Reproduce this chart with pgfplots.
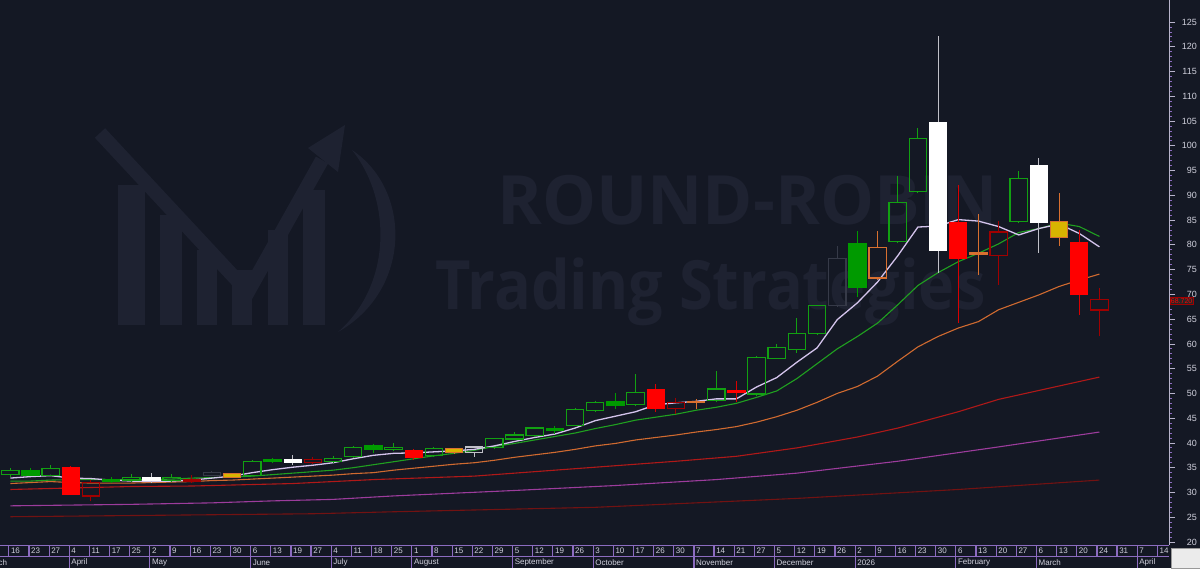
\documentclass[border=0pt]{standalone}
\usepackage{pgfplots}
\pgfplotsset{compat=1.18}
\usepackage{fontspec}
\setmainfont{Liberation Sans}
\newfontfamily\wmfont{Open Sans}
\definecolor{bg}{HTML}{141824}
\definecolor{wm}{HTML}{1E2231}
\definecolor{cg}{HTML}{12A012}
\definecolor{cgf}{HTML}{009A00}
\definecolor{cr}{HTML}{FF0000}
\definecolor{cdr}{HTML}{A00000}
\definecolor{cw}{HTML}{FFFFFF}
\definecolor{cwk}{HTML}{C0C0C8}
\definecolor{cy}{HTML}{D8B400}
\definecolor{co}{HTML}{D87030}
\definecolor{ck}{HTML}{363A48}
\definecolor{mawhite}{HTML}{D4C4EC}
\definecolor{magreen}{HTML}{20A020}
\definecolor{maorange}{HTML}{D06A30}
\definecolor{mared}{HTML}{B01818}
\definecolor{mapurple}{HTML}{9C3C9C}
\definecolor{madark}{HTML}{721212}
\definecolor{stripc}{HTML}{8C6CC0}
\definecolor{labc}{HTML}{D0D0DC}
\definecolor{axisc}{HTML}{B8B4CC}
\pgfplotsset{
 bodyG/.style={draw=cg, line width=1.2pt, fill=none},
 wickG/.style={draw=cg, line width=1pt},
 bodyGF/.style={draw=cgf, line width=1pt, fill=cgf},
 wickGF/.style={draw=cgf, line width=1pt},
 bodyR/.style={draw=cr, line width=1pt, fill=cr},
 wickR/.style={draw=cr!85!black, line width=1pt},
 bodyDR/.style={draw=cdr, line width=1.2pt, fill=none},
 wickDR/.style={draw=cdr, line width=1pt},
 bodyW/.style={draw=cw, line width=1pt, fill=cw},
 wickW/.style={draw=cwk, line width=1pt},
 bodyWO/.style={draw=cwk, line width=1.2pt, fill=none},
 wickWO/.style={draw=cwk, line width=1pt},
 bodyY/.style={draw=co, line width=0.8pt, fill=cy},
 wickY/.style={draw=co, line width=1pt},
 bodyO/.style={draw=co, line width=1.2pt, fill=none},
 wickO/.style={draw=co, line width=1pt},
 bodyOF/.style={draw=co, line width=1pt, fill=co},
 wickOF/.style={draw=co, line width=1pt},
 bodyK/.style={draw=ck, line width=1.2pt, fill=none},
 wickK/.style={draw=ck, line width=1pt},
}
% i, body low, body high, low, high, style
\newcommand\candle[6]{%
 \pgfmathsetmacro\xa{#1-0.43}\pgfmathsetmacro\xb{#1+0.43}%
 \addplot[wick#6] coordinates {(#1,#4) (#1,#2)};
 \addplot[wick#6] coordinates {(#1,#3) (#1,#5)};
 \addplot[body#6] coordinates {(\xa,#2) (\xb,#2) (\xb,#3) (\xa,#3)} -- cycle;
}
\newcommand\smallfont{\fontsize{8}{9}\selectfont}
\begin{document}
\begin{tikzpicture}[x=1pt,y=1pt]
\path[use as bounding box, fill=bg] (0,0) rectangle (1200,568);
% watermark logo
\begin{scope}[yshift=568pt, y=-1pt]
 \fill[wm] (118,185) rectangle (145,325);
 \fill[wm] (160,215) rectangle (182,325);
 \fill[wm] (197,250) rectangle (217,325);
 \fill[wm] (232,270) rectangle (252,325);
 \fill[wm] (268,230) rectangle (288,325);
 \fill[wm] (303,190) rectangle (325,325);
 \draw[wm, line width=14pt, line join=miter] (100,133) -- (248,292) -- (322,160);
 \fill[wm] (345,125) -- (308,148) -- (338,172) -- cycle;
 \fill[wm] (352,150) .. controls (412,190) and (412,290) .. (338,332) .. controls (392,285) and (392,200) .. cycle;
\end{scope}
\node[anchor=base west, inner sep=0pt, text=wm, font=\wmfont\bfseries\fontsize{68}{68}\selectfont] at (497,343) {ROUND-ROBIN};
\node[anchor=base west, inner sep=0pt, text=wm, xscale=0.9, font=\wmfont\bfseries\fontsize{68}{68}\selectfont] at (435,258) {Trading Strategies};
\begin{axis}[
 at={(0pt,23pt)}, anchor=south west,
 scale only axis, width=1169pt, height=545pt,
 xmin=-0.511, xmax=57.45, ymin=19.39, ymax=129.45,
 clip=false,
 axis x line=none, axis y line*=right,
 y axis line style={draw=axisc, line width=0.8pt},
 ytick={20,25,...,125}, minor y tick num=4,
 tick align=outside, major tick length=6pt, minor tick length=3pt,
 y tick style={draw=axisc, line width=0.8pt},
 minor y tick style={draw=stripc, line width=0.8pt},
 /pgf/number format/assume math mode=true,
 yticklabel style={anchor=east, inner sep=0pt, xshift=22pt, text=labc, font=\fontsize{9}{10}\selectfont},
]
% moving averages
\addplot[madark, line width=1.1pt] coordinates {(0,25.1) (5,25.3) (10,25.5) (15,25.7) (19,26.1) (29,27.0) (39,28.8) (47,30.6) (54,32.5)};
\addplot[mapurple, line width=1.1pt] coordinates {(0,27.3) (6,27.6) (10,27.9) (13,28.3) (16,28.6) (19,29.3) (25,30.4) (30,31.4) (35,32.6) (39,33.9) (44,36.3) (49,39.2) (54,42.2)};
\addplot[mared, line width=1.1pt] coordinates {(0,30.6) (2,30.8) (6,31.2) (9,31.3) (14,31.8) (18,32.6) (23,33.3) (26,34.2) (29,35.1) (33,36.3) (36,37.3) (39,39.0) (42,41.2) (44,43.0) (47,46.3) (49,48.8) (52,51.5) (54,53.3)};
\addplot[maorange, line width=1.1pt] coordinates {(0,31.8) (1,32.0) (2,32.2) (3,32.0) (4,31.9) (5,31.9) (6,31.9) (7,32.0) (8,32.1) (9,32.2) (10,32.4) (11,32.5) (12,32.7) (13,32.9) (14,33.1) (15,33.3) (16,33.5) (17,33.8) (18,34.0) (19,34.5) (20,34.9) (21,35.3) (22,35.7) (23,36.0) (24,36.5) (25,37.1) (26,37.6) (27,38.1) (28,38.7) (29,39.4) (30,39.9) (31,40.6) (32,41.1) (33,41.6) (34,42.2) (35,42.7) (36,43.3) (37,44.2) (38,45.3) (39,46.6) (40,48.2) (41,50.0) (42,51.4) (43,53.5) (44,56.5) (45,59.4) (46,61.5) (47,63.2) (48,64.5) (49,66.9) (50,68.4) (51,69.9) (52,71.6) (53,72.9) (54,74.1)};
\addplot[magreen, line width=1.1pt] coordinates {(0,32.3) (1,32.3) (2,32.5) (3,32.6) (4,32.6) (5,32.6) (6,32.6) (7,32.6) (8,32.7) (9,32.9) (10,33.0) (11,33.1) (12,33.3) (13,33.6) (14,33.9) (15,34.2) (16,34.5) (17,35.0) (18,35.6) (19,36.2) (20,36.8) (21,37.4) (22,37.9) (23,38.5) (24,39.3) (25,39.9) (26,40.6) (27,41.3) (28,42.0) (29,42.9) (30,43.7) (31,44.6) (32,45.2) (33,45.8) (34,46.6) (35,47.2) (36,48.0) (37,49.2) (38,50.5) (39,53.0) (40,56.0) (41,59.0) (42,61.5) (43,64.2) (44,67.9) (45,71.8) (46,74.4) (47,76.6) (48,78.3) (49,80.2) (50,82.5) (51,83.3) (52,84.4) (53,83.7) (54,81.7)};
\addplot[mawhite, line width=1.3pt] coordinates {(0,32.9) (1,33.2) (2,33.4) (3,32.9) (4,32.8) (5,32.5) (6,32.3) (7,32.2) (8,32.3) (9,32.5) (10,32.9) (11,33.3) (12,34.0) (13,34.6) (14,35.1) (15,35.5) (16,36.0) (17,36.8) (18,37.5) (19,37.9) (20,38.0) (21,38.2) (22,38.4) (23,38.7) (24,39.4) (25,40.3) (26,41.1) (27,41.8) (28,43.0) (29,44.5) (30,45.4) (31,46.3) (32,47.7) (33,48.1) (34,48.4) (35,48.9) (36,48.9) (37,51.3) (38,53.2) (39,56.3) (40,59.2) (41,64.9) (42,68.3) (43,72.5) (44,77.8) (45,83.6) (46,83.8) (47,85.1) (48,84.8) (49,83.7) (50,82.0) (51,83.3) (52,84.2) (53,82.3) (54,79.6)};
% candles: i, body low, body high, low, high, style
\candle{0}{33.7}{34.4}{33.2}{35.0}{G}
\candle{1}{33.5}{34.5}{33.3}{35.0}{GF}
\candle{2}{33.5}{34.9}{33.3}{35.5}{G}
\candle{3}{29.5}{35.0}{29.5}{35.3}{R}
\candle{4}{29.3}{32.0}{28.2}{32.5}{DR}
\candle{5}{32.3}{32.7}{32.0}{33.2}{GF}
\candle{6}{32.5}{33.1}{32.2}{33.7}{G}
\candle{7}{32.4}{33.1}{31.9}{33.9}{W}
\candle{8}{32.4}{33.1}{32.3}{33.7}{G}
\candle{9}{32.3}{32.6}{31.9}{33.5}{DR}
\candle{10}{33.5}{34.0}{33.3}{34.3}{K}
\candle{11}{33.1}{33.8}{33.0}{34.0}{Y}
\candle{12}{33.5}{36.2}{33.3}{36.6}{G}
\candle{13}{36.2}{36.6}{35.9}{37.0}{GF}
\candle{14}{36.1}{36.7}{35.5}{37.6}{W}
\candle{15}{36.0}{36.6}{35.9}{37.2}{DR}
\candle{16}{36.2}{36.9}{36.0}{37.4}{G}
\candle{17}{37.2}{39.1}{37.0}{39.3}{G}
\candle{18}{38.7}{39.4}{37.9}{39.8}{GF}
\candle{19}{38.6}{39.0}{38.3}{40.0}{G}
\candle{20}{37.0}{38.4}{36.6}{38.7}{R}
\candle{21}{37.4}{38.8}{37.2}{39.1}{G}
\candle{22}{38.0}{38.8}{37.8}{39.0}{Y}
\candle{23}{38.0}{39.2}{37.2}{39.3}{WO}
\candle{24}{39.0}{40.9}{38.8}{41.0}{G}
\candle{25}{40.8}{41.6}{40.6}{42.3}{G}
\candle{26}{41.5}{43.0}{41.3}{43.3}{G}
\candle{27}{42.6}{42.9}{41.9}{43.4}{GF}
\candle{28}{43.6}{46.8}{43.4}{47.1}{G}
\candle{29}{46.5}{48.1}{46.3}{48.5}{G}
\candle{30}{47.5}{48.3}{46.8}{50.1}{GF}
\candle{31}{47.7}{50.2}{47.5}{53.9}{G}
\candle{32}{47.0}{50.8}{46.3}{52.0}{R}
\candle{33}{47.0}{48.2}{45.8}{49.0}{DR}
\candle{34}{48.1}{48.4}{46.8}{48.9}{OF}
\candle{35}{48.5}{50.9}{48.3}{54.6}{G}
\candle{36}{50.2}{50.6}{48.3}{52.5}{R}
\candle{37}{49.9}{57.3}{49.5}{57.5}{G}
\candle{38}{57.1}{59.2}{57.0}{59.9}{G}
\candle{39}{58.9}{62.1}{58.2}{65.2}{G}
\candle{40}{62.1}{67.7}{61.8}{67.9}{G}
\candle{41}{67.7}{77.3}{67.5}{79.8}{K}
\candle{42}{71.4}{80.2}{69.5}{82.8}{GF}
\candle{43}{73.3}{79.5}{73.0}{82.8}{O}
\candle{44}{80.7}{88.6}{80.3}{93.9}{G}
\candle{45}{90.7}{101.5}{90.4}{103.5}{G}
\candle{46}{78.8}{104.8}{74.3}{122.1}{W}
\candle{47}{77.2}{84.6}{64.2}{92.1}{R}
\candle{48}{78.1}{78.5}{73.9}{86.2}{OF}
\candle{49}{77.8}{82.6}{71.9}{84.8}{DR}
\candle{50}{84.7}{93.4}{84.5}{94.9}{G}
\candle{51}{84.6}{96.1}{78.4}{97.6}{W}
\candle{52}{81.6}{84.8}{79.8}{90.5}{Y}
\candle{53}{69.9}{80.5}{65.8}{83.0}{R}
\candle{54}{66.85}{68.9}{61.5}{71.2}{DR}
\end{axis}
% date strip
\draw[stripc, line width=1pt] (0,23) -- (1169,23);
\draw[stripc, line width=1pt] (0,11.5) -- (1169,11.5);
\foreach \i/\d in {0/16,1/23,2/27,3/4,4/11,5/17,6/25,7/2,8/9,9/16,10/23,11/30,12/6,13/13,14/19,15/27,16/4,17/11,18/18,19/25,20/1,21/8,22/15,23/22,24/29,25/5,26/12,27/19,28/26,29/3,30/10,31/17,32/26,33/30,34/7,35/14,36/21,37/27,38/5,39/12,40/19,41/26,42/2,43/9,44/16,45/23,46/30,47/6,48/13,49/20,50/27,51/6,52/13,53/20,54/24,55/31,56/7,57/14}{
 \pgfmathsetmacro\xx{10.3+20.15*\i}
 \draw[stripc, line width=1.2pt] (\xx-1.5,23) -- (\xx-1.5,11.5);
 \node[anchor=west, inner sep=0pt, text=labc, font=\smallfont] at (\xx+0.5,17.2) {\d};
}
\foreach \i/\m in {-1.3/March,3/April,7/May,12/June,16/July,20/August,25/September,29/October,34/November,38/December,42/2026,47/February,51/March,56/April}{
 \pgfmathsetmacro\xx{10.3+20.15*\i}
 \draw[stripc, line width=1.2pt] (\xx-1.5,11.5) -- (\xx-1.5,0);
 \node[anchor=west, inner sep=0pt, text=labc, font=\smallfont] at (\xx+0.5,5.6) {\m};
}
% last price tag
\node[anchor=west, draw=cdr, fill=black!85, text=cr, inner sep=1.2pt, font=\fontsize{7}{8}\selectfont] at (1169.5,267.3) {68.720};
% corner box
\fill[black!8] (1171,0) rectangle (1200,20);
\draw[black!40] (1171,0) rectangle (1200,20);
\end{tikzpicture}
\end{document}
